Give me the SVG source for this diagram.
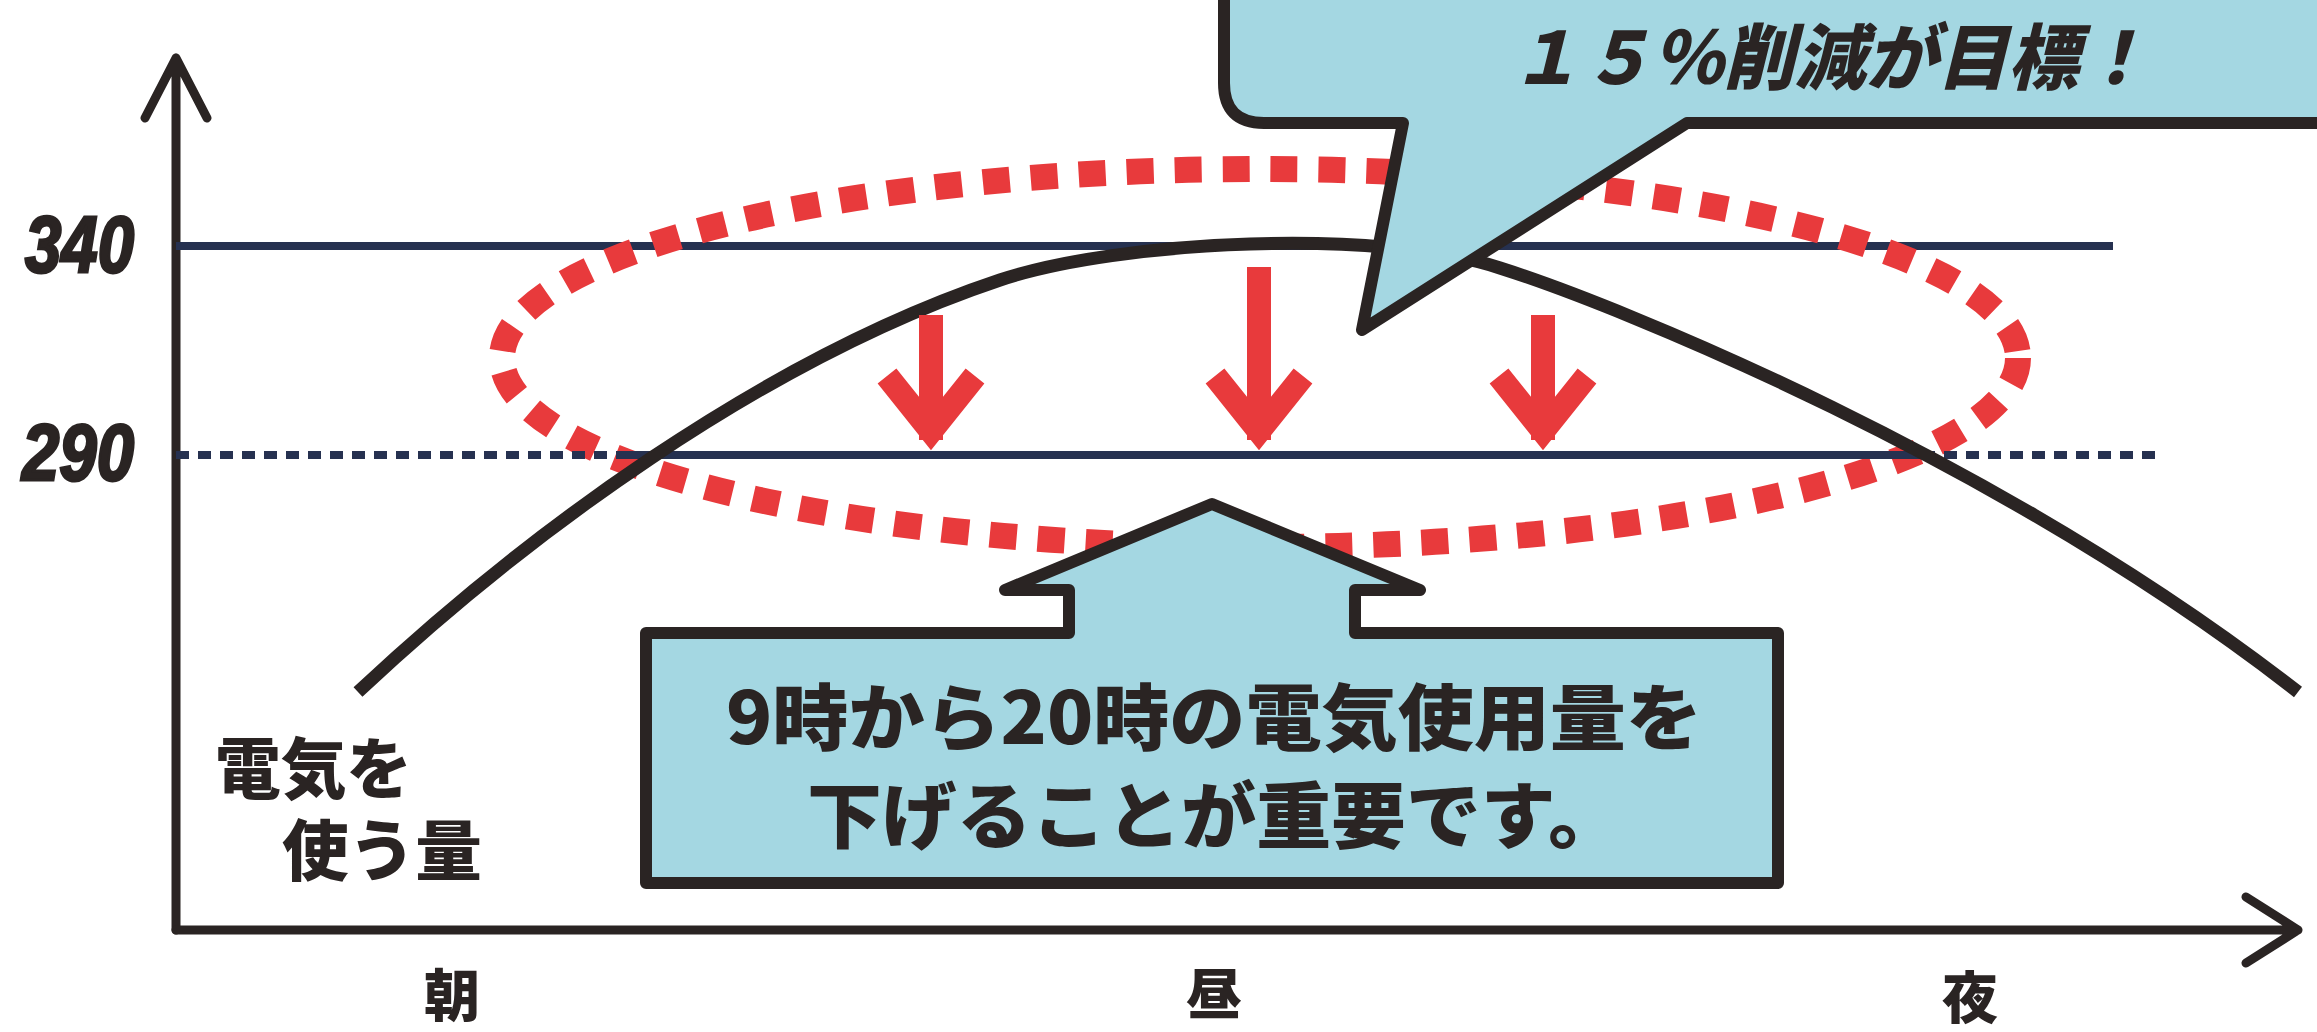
<svg xmlns="http://www.w3.org/2000/svg" width="2317" height="1032" viewBox="0 0 2317 1032">
<style>
.jp{font-family:"Noto Sans CJK JP","Noto Sans CJK SC",sans-serif;font-weight:900;fill:#2a2423}
.num{font-family:"Liberation Sans","DejaVu Sans",sans-serif;font-weight:bold;font-style:italic;fill:#2a2423;stroke:#2a2423;stroke-width:3}
.axis{fill:none;stroke:#2a2423;stroke-width:9;stroke-linecap:round;stroke-linejoin:round}
.navy{fill:none;stroke:#263150;stroke-width:8}
.red{fill:none;stroke:#e83a3c;stroke-width:24;stroke-linecap:butt;stroke-linejoin:miter}
.box{fill:#a4d7e2;stroke:#2a2423;stroke-width:12;stroke-linejoin:round}
</style>
<rect width="2317" height="1032" fill="#ffffff"/>
<g id="connectors">
  <path id="axis-y" class="axis" d="M176 930 V58 M145 118 L176 58 L207 118"/>
  <path id="axis-x" class="axis" d="M176 930 H2298 M2246 897 L2298 930 L2246 963"/>
  <line id="line-340" class="navy" x1="176" y1="246" x2="2113" y2="246"/>
  <ellipse id="target-ellipse" cx="1260" cy="358" rx="758" ry="189" fill="none" stroke="#e83a3c" stroke-width="26" stroke-dasharray="27 21"/>
  <g id="line-290">
    <line class="navy" x1="176" y1="455" x2="622" y2="455" stroke-width="11" stroke-dasharray="13 9"/>
    <line class="navy" x1="622" y1="455" x2="1922" y2="455"/>
    <line class="navy" x1="1922" y1="455" x2="2157" y2="455" stroke-width="11" stroke-dasharray="13 9"/>
  </g>
  <path id="usage-curve" fill="none" stroke="#2a2423" stroke-width="13" stroke-linecap="butt" d="M358 692 C520 540 760 360 1000 280 C1120 240 1380 228 1500 268 C1620 306 2000 460 2298 692"/>
  <path id="arrow-1" class="red" d="M931 315 V440 M887 376 L931 431 L975 376"/>
  <path id="arrow-2" class="red" d="M1259 267 V440 M1215 376 L1259 431 L1303 376"/>
  <path id="arrow-3" class="red" d="M1543 315 V440 M1499 376 L1543 431 L1587 376"/>
</g>
<g id="label-340"><text class="num" x="25" y="272" font-size="80" textLength="109" lengthAdjust="spacingAndGlyphs">340</text></g>
<g id="label-290"><text class="num" x="22" y="480" font-size="80" textLength="112" lengthAdjust="spacingAndGlyphs">290</text></g>
<g id="label-y">
  <text class="jp" x="215" y="793" font-size="66" textLength="197" lengthAdjust="spacingAndGlyphs">電気を</text>
  <text class="jp" x="282" y="875" font-size="66" textLength="200" lengthAdjust="spacingAndGlyphs">使う量</text>
</g>
<g id="label-morning"><text class="jp" x="452" y="1016" font-size="56" text-anchor="middle">朝</text></g>
<g id="label-noon"><text class="jp" x="1214" y="1014" font-size="56" text-anchor="middle">昼</text></g>
<g id="label-night"><text class="jp" x="1970" y="1018" font-size="56" text-anchor="middle">夜</text></g>
<g id="callout-target">
  <path class="box" d="M1224 -40 V83 Q1224 123 1264 123 H1403 L1362 330 L1687 123 H2340 V-40 Z"/>
  <text class="jp" x="1510" y="84" font-size="72" font-style="italic" textLength="640" lengthAdjust="spacingAndGlyphs">１５％削減が目標！</text>
</g>
<g id="callout-important">
  <path class="box" d="M646 633 H1069 V590 H1005 L1212 504 L1420 590 H1355 V633 H1778 V883 H646 Z"/>
  <text class="jp" x="726" y="744" font-size="72" textLength="976" lengthAdjust="spacingAndGlyphs">9時から20時の電気使用量を</text>
  <text class="jp" x="807" y="842" font-size="72" textLength="816" lengthAdjust="spacingAndGlyphs">下げることが重要です。</text>
</g>
</svg>
